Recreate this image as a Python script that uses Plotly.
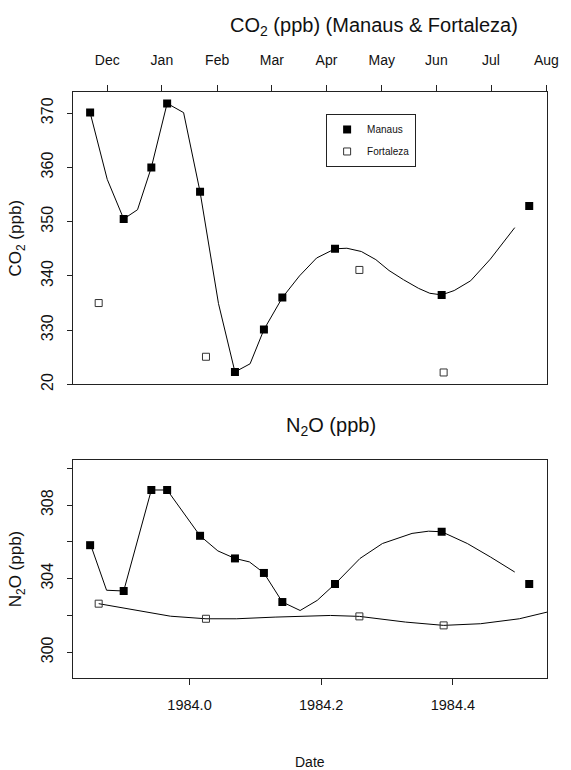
import plotly.graph_objects as go

# ---------------- data ----------------
manaus_date = [1983.849, 1983.900, 1983.942, 1983.966, 1984.016, 1984.069,
               1984.113, 1984.141, 1984.221, 1984.383, 1984.516]
manaus_co2 = [370.1, 350.5, 360.0, 371.8, 355.5, 322.3, 330.1, 336.0, 345.0, 336.5, 352.9]
manaus_n2o = [305.82, 303.33, 308.82, 308.82, 306.33, 305.10, 304.31, 302.73,
              303.71, 306.55, 303.71]

fortaleza_date = [1983.862, 1984.025, 1984.258, 1984.386]
fortaleza_co2 = [335.0, 325.1, 341.1, 322.2]
fortaleza_n2o = [302.64, 301.82, 301.95, 301.46]

# fitted curves
co2_fit_date = [1983.849, 1983.875, 1983.900, 1983.921, 1983.942, 1983.966, 1983.991,
                1984.016, 1984.044, 1984.069, 1984.092, 1984.113, 1984.141, 1984.167,
                1984.193, 1984.221, 1984.239, 1984.261, 1984.283, 1984.303, 1984.325,
                1984.348, 1984.365, 1984.383, 1984.402, 1984.427, 1984.457, 1984.494]
co2_fit = [370.1, 357.8, 350.5, 352.2, 360.0, 371.8, 370.1,
           355.5, 334.9, 322.3, 323.8, 330.1, 336.0, 340.0,
           343.3, 345.0, 345.1, 344.5, 343.0, 341.0, 339.3,
           337.7, 336.8, 336.5, 337.3, 339.1, 343.1, 348.9]

n2o_manaus_fit_date = [1983.850, 1983.874, 1983.900, 1983.942, 1983.966, 1984.016,
                       1984.043, 1984.069, 1984.091, 1984.113, 1984.141, 1984.168,
                       1984.194, 1984.221, 1984.259, 1984.293, 1984.338, 1984.363,
                       1984.383, 1984.422, 1984.457, 1984.494]
n2o_manaus_fit = [305.82, 303.37, 303.33, 308.82, 308.82, 306.33,
                  305.51, 305.10, 304.91, 304.31, 302.73, 302.27,
                  302.82, 303.71, 305.10, 305.91, 306.46, 306.58,
                  306.55, 305.91, 305.18, 304.36]

n2o_fort_fit_date = [1983.862, 1983.971, 1984.025, 1984.071, 1984.130, 1984.214,
                     1984.258, 1984.328, 1984.386, 1984.442, 1984.501, 1984.543]
n2o_fort_fit = [302.64, 301.96, 301.82, 301.82, 301.91, 302.00,
                301.95, 301.64, 301.46, 301.55, 301.82, 302.18]

month_labels = ["Dec", "Jan", "Feb", "Mar", "Apr", "May", "Jun", "Jul", "Aug"]
month_pos = [1983.875, 1983.958, 1984.042, 1984.125, 1984.208,
             1984.292, 1984.375, 1984.458, 1984.542]
co2_tickvals = [320, 330, 340, 350, 360, 370]
co2_ticktext = ["20", "330", "340", "350", "360", "370"]
n2o_tickvals = [300, 304, 308]
n2o_ticktext = ["300", "304", "308"]
n2o_minor_ticks = [302, 306, 310]
date_tickvals = [1984.0, 1984.2, 1984.4]
date_ticktext = ["1984.0", "1984.2", "1984.4"]

SANS = "Liberation Sans, Arial, sans-serif"
INK = "#000000"
TXT = "#111111"

fig = go.Figure()

# top panel
fig.add_trace(go.Scatter(x=co2_fit_date, y=co2_fit, mode="lines",
                         line=dict(color=INK, width=1), showlegend=False,
                         legendgroup="m", xaxis="x", yaxis="y"))
fig.add_trace(go.Scatter(x=manaus_date, y=manaus_co2, mode="markers", name="Manaus",
                         legendgroup="m",
                         marker=dict(symbol="square", size=8, color=INK),
                         xaxis="x", yaxis="y"))
fig.add_trace(go.Scatter(x=fortaleza_date, y=fortaleza_co2, mode="markers", name="Fortaleza",
                         legendgroup="f",
                         marker=dict(symbol="square-open", size=7, color="#333333",
                                     line=dict(width=1)),
                         xaxis="x", yaxis="y"))

# bottom panel
fig.add_trace(go.Scatter(x=n2o_manaus_fit_date, y=n2o_manaus_fit, mode="lines",
                         line=dict(color=INK, width=1), showlegend=False,
                         legendgroup="m", xaxis="x2", yaxis="y2"))
fig.add_trace(go.Scatter(x=n2o_fort_fit_date, y=n2o_fort_fit, mode="lines",
                         line=dict(color=INK, width=1), showlegend=False,
                         legendgroup="f", xaxis="x2", yaxis="y2"))
fig.add_trace(go.Scatter(x=manaus_date, y=manaus_n2o, mode="markers", showlegend=False,
                         legendgroup="m",
                         marker=dict(symbol="square", size=8, color=INK),
                         xaxis="x2", yaxis="y2"))
fig.add_trace(go.Scatter(x=fortaleza_date, y=fortaleza_n2o, mode="markers", showlegend=False,
                         legendgroup="f",
                         marker=dict(symbol="square-open", size=7, color="#333333",
                                     line=dict(width=1)),
                         xaxis="x2", yaxis="y2"))

xr = [1983.823, 1984.543]
axis_common = dict(showgrid=False, zeroline=False, showline=True, mirror=True,
                   linecolor="#222222", linewidth=1, ticks="outside",
                   tickcolor="#222222")

fig.update_layout(
    width=571, height=770,
    margin=dict(l=73, r=13, t=92, b=92),
    paper_bgcolor="white", plot_bgcolor="white",
    xaxis=dict(domain=[0, 1], range=xr, anchor="y", side="top",
               tickvals=month_pos, ticktext=month_labels, ticklen=6,
               ticklabelstandoff=14,
               tickfont=dict(family=SANS, size=14, color=TXT), **axis_common),
    yaxis=dict(domain=[0.501, 1], range=[320, 373.9], anchor="x",
               tickvals=co2_tickvals, ticktext=co2_ticktext, ticklen=5,
               tickangle=-90, ticklabelstandoff=8,
               tickfont=dict(family=SANS, size=16, color=TXT),
               title=dict(text="CO<sub>2</sub> (ppb)", standoff=12,
                          font=dict(family=SANS, size=17, color=TXT)),
               **axis_common),
    xaxis2=dict(domain=[0, 1], range=xr, anchor="y2", side="bottom",
                tickvals=date_tickvals, ticktext=date_ticktext, ticklen=6,
                ticklabelstandoff=8,
                tickfont=dict(family=SANS, size=14.5, color=TXT),
                **axis_common),
    yaxis2=dict(domain=[0, 0.372], range=[298.6, 310.45], anchor="x2",
                tickvals=n2o_tickvals, ticktext=n2o_ticktext, ticklen=5,
                minor=dict(tickvals=n2o_minor_ticks, ticks="outside", ticklen=5,
                           tickcolor="#222222", showgrid=False),
                tickangle=-90, ticklabelstandoff=8,
                tickfont=dict(family=SANS, size=16, color=TXT),
                title=dict(text="N<sub>2</sub>O (ppb)", standoff=12,
                           font=dict(family=SANS, size=17, color=TXT)),
                **axis_common),
    legend=dict(x=0.534, y=0.9625, xanchor="left", yanchor="top",
                bordercolor="#222222", borderwidth=1, bgcolor="white",
                tracegroupgap=3,
                font=dict(family=SANS, size=10, color=TXT)),
    annotations=[
        dict(text="CO<sub>2</sub> (ppb) (Manaus &amp; Fortaleza)", xref="paper", yref="paper",
             x=0.635, y=1.112, xanchor="center", yanchor="middle", showarrow=False,
             font=dict(family=SANS, size=20, color=TXT)),
        dict(text="N<sub>2</sub>O (ppb)", xref="paper", yref="paper",
             x=0.545, y=0.430, xanchor="center", yanchor="middle", showarrow=False,
             font=dict(family=SANS, size=20, color=TXT)),
        dict(text="Date", xref="paper", yref="paper",
             x=0.5, y=-0.143, xanchor="center", yanchor="middle", showarrow=False,
             font=dict(family=SANS, size=14, color=TXT)),
    ],
)

fig.write_html("out.html")
